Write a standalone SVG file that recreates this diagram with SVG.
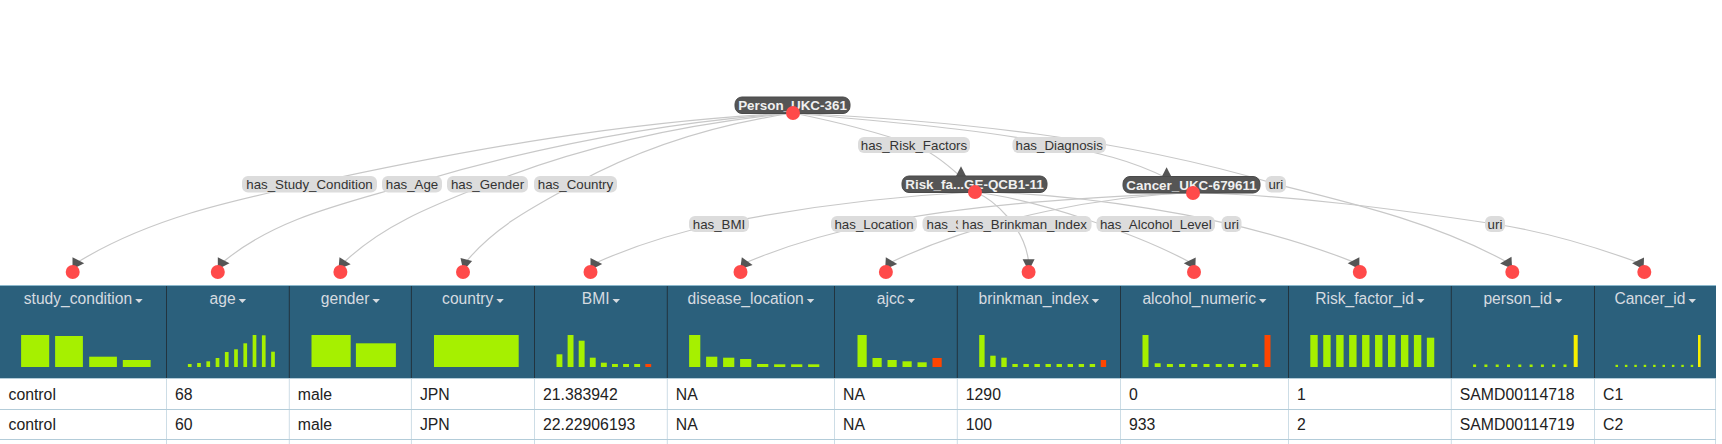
<svg xmlns="http://www.w3.org/2000/svg" xmlns:xlink="http://www.w3.org/1999/xlink" width="1722" height="444" viewBox="0 0 1722 444">
<style>
.edge{fill:none;stroke:#c8c8c8;stroke-width:1.2}
.arrow{fill:#555}
.pill{fill:#dcdcdc}
.pill-t{font-family:"Liberation Sans",Arial,sans-serif;font-size:13.3px;fill:#333;text-anchor:middle}
.nlab{fill:#555;stroke:#4a4a4a;stroke-width:1}
.nlab-t{font-family:"Liberation Sans",Arial,sans-serif;font-size:13.4px;font-weight:bold;fill:#f0f0f0;text-anchor:middle}
.dot{fill:#ff4a4a}
.hdr{fill:#2b607c}
.hdr-t{font-family:"Liberation Sans",Arial,sans-serif;font-size:15.6px;fill:#d6dbe0}
.caret{fill:#d6dbe0}
.bar{fill:#a6f000}
.bar-r{fill:#ff4500}
.bar-y{fill:#f7ef00}
.cell{font-family:"Liberation Sans",Arial,sans-serif;font-size:15.8px;fill:#222}
.sep-d{stroke:#22343f;stroke-width:1}
.sep-l{stroke:#cddde6;stroke-width:1}
.row-l{stroke:#b3ccd9;stroke-width:1.2}
</style>
<defs>
<polygon id="arw" points="0,-6 11.7,0 0,6"/>
</defs>
<rect x="0" y="0" width="1722" height="444" fill="#ffffff"/>

<!-- table -->
<g id="table">
<rect class="hdr" x="0" y="285" width="1716" height="93"/>
<line x1="0" y1="285.5" x2="1716" y2="285.5" stroke="#8cb8cc" stroke-width="1.2"/>
<g class="sep-d">
<line x1="166.5" y1="286" x2="166.5" y2="378"/>
<line x1="289.3" y1="286" x2="289.3" y2="378"/>
<line x1="411.4" y1="286" x2="411.4" y2="378"/>
<line x1="534.5" y1="286" x2="534.5" y2="378"/>
<line x1="667.3" y1="286" x2="667.3" y2="378"/>
<line x1="834.5" y1="286" x2="834.5" y2="378"/>
<line x1="957.3" y1="286" x2="957.3" y2="378"/>
<line x1="1120.5" y1="286" x2="1120.5" y2="378"/>
<line x1="1288.5" y1="286" x2="1288.5" y2="378"/>
<line x1="1451.3" y1="286" x2="1451.3" y2="378"/>
<line x1="1594.5" y1="286" x2="1594.5" y2="378"/>
</g>
<g class="sep-l">
<line x1="166.5" y1="378" x2="166.5" y2="444"/>
<line x1="289.3" y1="378" x2="289.3" y2="444"/>
<line x1="411.4" y1="378" x2="411.4" y2="444"/>
<line x1="534.5" y1="378" x2="534.5" y2="444"/>
<line x1="667.3" y1="378" x2="667.3" y2="444"/>
<line x1="834.5" y1="378" x2="834.5" y2="444"/>
<line x1="957.3" y1="378" x2="957.3" y2="444"/>
<line x1="1120.5" y1="378" x2="1120.5" y2="444"/>
<line x1="1288.5" y1="378" x2="1288.5" y2="444"/>
<line x1="1451.3" y1="378" x2="1451.3" y2="444"/>
<line x1="1594.5" y1="378" x2="1594.5" y2="444"/>
<line x1="1715.5" y1="378" x2="1715.5" y2="444"/>
</g>
<g class="row-l">
<line x1="0" y1="378.5" x2="1716" y2="378.5"/>
<line x1="0" y1="409.5" x2="1716" y2="409.5"/>
<line x1="0" y1="439.5" x2="1716" y2="439.5"/>
</g>
<g class="cell">
<text x="8.5" y="400">control</text>
<text x="175" y="400">68</text>
<text x="297.8" y="400">male</text>
<text x="419.9" y="400">JPN</text>
<text x="543" y="400">21.383942</text>
<text x="675.8" y="400">NA</text>
<text x="843" y="400">NA</text>
<text x="965.8" y="400">1290</text>
<text x="1129" y="400">0</text>
<text x="1297" y="400">1</text>
<text x="1459.8" y="400">SAMD00114718</text>
<text x="1603" y="400">C1</text>
<text x="8.5" y="430">control</text>
<text x="175" y="430">60</text>
<text x="297.8" y="430">male</text>
<text x="419.9" y="430">JPN</text>
<text x="543" y="430">22.22906193</text>
<text x="675.8" y="430">NA</text>
<text x="843" y="430">NA</text>
<text x="965.8" y="430">100</text>
<text x="1129" y="430">933</text>
<text x="1297" y="430">2</text>
<text x="1459.8" y="430">SAMD00114719</text>
<text x="1603" y="430">C2</text>
</g>
</g>

<!-- connectors -->
<g id="connectors">
<path class="edge" d="M793,113 C630,121 468,149 309,184 C230,201 148,219 77.5,262.3"/>
<path class="edge" d="M793,113 C663.8,122 535.1,146.8 411,184 C346.7,203.3 276.1,217.5 222.8,262.3"/>
<path class="edge" d="M793,113 C689,123.4 584.5,145.2 487.5,184 C437.9,203.8 384.8,223.2 344,262.3"/>
<path class="edge" d="M793,113 C717.4,124.3 641.9,147.2 575,184 C536.5,205.2 494.8,226.2 466,262"/>
<path class="edge" d="M793,113 C833.9,121.2 874.6,131.2 914,145 C930.5,150.8 944.7,162 961,177"/>
<path class="edge" d="M793,113 C881.9,121.9 971.4,127.5 1059,145 C1094.6,152.1 1130.2,159.6 1166.5,178"/>
<path class="edge" d="M793,113 C955,121 1120,137.3 1275.5,184 C1355.5,204 1436,223 1506.8,262"/>
<path class="edge" d="M975,192 C888.9,196.3 803.1,207.1 718.5,224 C677.2,232.3 636.4,244.7 595.5,263"/>
<path class="edge" d="M975,192 C995,200 1025,228 1028.6,262"/>
<path class="edge" d="M975,192 C1040,200 1140,235 1190.5,262.6"/>
<path class="edge" d="M975,192 C1060,193 1230,212 1354.4,262.4"/>
<path class="edge" d="M1193,192.5 C1086.2,197.8 978.9,203 874,224 C831,232.6 788.6,244.7 746,262.5"/>
<path class="edge" d="M1193,192.5 C1110,196 990,215 890.5,262.5"/>
<path class="edge" d="M1193,192.5 C1294,195.5 1394.7,209 1494.6,224 C1542.8,231.2 1590,244.9 1638.8,262.7"/>
<g class="arrow">
<use xlink:href="#arw" href="#arw" transform="translate(72.5,263.3)"/>
<use xlink:href="#arw" href="#arw" transform="translate(217.8,263.3)"/>
<use xlink:href="#arw" href="#arw" transform="translate(339,263.3) rotate(5)"/>
<use xlink:href="#arw" href="#arw" transform="translate(466.3,259.5) rotate(105)"/>
<use xlink:href="#arw" href="#arw" transform="translate(590.5,264)"/>
<use xlink:href="#arw" href="#arw" transform="translate(741,263.3) rotate(8)"/>
<use xlink:href="#arw" href="#arw" transform="translate(885.5,263.3) rotate(3)"/>
<use xlink:href="#arw" href="#arw" transform="translate(1028.6,259.3) rotate(90)"/>
<use xlink:href="#arw" href="#arw" transform="translate(1195.5,263.6) rotate(182)"/>
<use xlink:href="#arw" href="#arw" transform="translate(1359.4,263.3) rotate(180)"/>
<use xlink:href="#arw" href="#arw" transform="translate(1511.8,262.8) rotate(177)"/>
<use xlink:href="#arw" href="#arw" transform="translate(1643.8,263.6) rotate(182)"/>
<use xlink:href="#arw" href="#arw" transform="translate(961,178) rotate(-90)"/>
<use xlink:href="#arw" href="#arw" transform="translate(1166.6,179) rotate(-90)"/>
</g>
<g id="connector-labels">
<rect class="pill" x="858" y="137" width="112" height="16" rx="6"/>
<text class="pill-t" x="914" y="149.7">has_Risk_Factors</text>
<rect class="pill" x="1012.5" y="137" width="93.5" height="16" rx="6"/>
<text class="pill-t" x="1059.2" y="149.7">has_Diagnosis</text>
<rect class="pill" x="242" y="176" width="135" height="16.5" rx="6"/>
<text class="pill-t" x="309.5" y="189">has_Study_Condition</text>
<rect class="pill" x="382" y="176" width="60" height="16.5" rx="6"/>
<text class="pill-t" x="412" y="189">has_Age</text>
<rect class="pill" x="447" y="176" width="81" height="16.5" rx="6"/>
<text class="pill-t" x="487.5" y="189">has_Gender</text>
<rect class="pill" x="534" y="176" width="83" height="16.5" rx="6"/>
<text class="pill-t" x="575.5" y="189">has_Country</text>
<rect class="pill" x="1265.5" y="176" width="20.5" height="16.5" rx="6"/>
<text class="pill-t" x="1275.8" y="189">uri</text>
<rect class="pill" x="689" y="216" width="60" height="16" rx="6"/>
<text class="pill-t" x="719" y="228.7">has_BMI</text>
<rect class="pill" x="831" y="216" width="86" height="16" rx="6"/>
<text class="pill-t" x="874" y="228.7">has_Location</text>
<rect class="pill" x="922.5" y="216" width="70" height="16" rx="6"/>
<text class="pill-t" x="926.5" y="228.7" style="text-anchor:start">has_S</text>
<rect class="pill" x="957.5" y="216" width="134" height="16" rx="6"/>
<text class="pill-t" x="1024.5" y="228.7">has_Brinkman_Index</text>
<rect class="pill" x="1096.5" y="216" width="118.5" height="16" rx="6"/>
<text class="pill-t" x="1155.8" y="228.7">has_Alcohol_Level</text>
<rect class="pill" x="1221.5" y="216" width="20" height="16" rx="6"/>
<text class="pill-t" x="1231.5" y="228.7">uri</text>
<rect class="pill" x="1485" y="216" width="20" height="16" rx="6"/>
<text class="pill-t" x="1495" y="228.7">uri</text>
</g>
</g>

<!-- class nodes -->
<g id="node-person">
<rect class="nlab" x="735" y="97" width="115" height="16.5" rx="7"/>
<text class="nlab-t" x="792.5" y="110">Person_UKC-361</text>
<circle class="dot" cx="793" cy="113" r="7"/>
</g>
<g id="node-risk">
<rect class="nlab" x="902" y="176" width="145" height="16.5" rx="7"/>
<text class="nlab-t" x="974.5" y="189">Risk_fa...GE-QCB1-11</text>
<circle class="dot" cx="975" cy="192" r="7"/>
</g>
<g id="node-cancer">
<rect class="nlab" x="1123" y="176.5" width="137" height="16.5" rx="7"/>
<text class="nlab-t" x="1191.5" y="189.5">Cancer_UKC-679611</text>
<circle class="dot" cx="1193" cy="193" r="7"/>
</g>

<!-- column nodes -->
<g id="col-study_condition">
<circle class="dot" cx="72.7" cy="272" r="7"/>
<text class="hdr-t" x="23.8" y="304">study_condition</text>
<polygon class="caret" points="135.2,299 142.7,299 139,303"/>
<g class="bar"><rect x="21.1" y="335" width="28.1" height="32"/><rect x="55.1" y="336" width="27.8" height="31"/><rect x="89.2" y="356.7" width="27.7" height="10.3"/><rect x="122.8" y="360" width="27.8" height="7"/></g>
</g>
<g id="col-age">
<circle class="dot" cx="217.8" cy="272" r="7"/>
<text class="hdr-t" x="209.6" y="304">age</text>
<polygon class="caret" points="238.6,299 246.1,299 242.4,303"/>
<g class="bar"><rect x="187.9" y="364" width="3.7" height="3"/><rect x="197.15" y="363" width="3.7" height="4"/><rect x="206.4" y="361.3" width="3.7" height="5.7"/><rect x="215.65" y="358" width="3.7" height="9"/><rect x="224.9" y="352" width="3.7" height="15"/><rect x="234.15" y="349.3" width="3.7" height="17.7"/><rect x="243.4" y="343.3" width="3.7" height="23.7"/><rect x="252.65" y="335" width="3.7" height="32"/><rect x="261.9" y="335.3" width="3.7" height="31.7"/><rect x="271.15" y="351.7" width="3.7" height="15.3"/></g>
</g>
<g id="col-gender">
<circle class="dot" cx="340.4" cy="272" r="7"/>
<text class="hdr-t" x="320.8" y="304">gender</text>
<polygon class="caret" points="372.4,299 379.9,299 376.2,303"/>
<g class="bar"><rect x="311.5" y="335" width="39.2" height="32"/><rect x="355.9" y="343.3" width="40" height="23.7"/></g>
</g>
<g id="col-country">
<circle class="dot" cx="463" cy="272" r="7"/>
<text class="hdr-t" x="442.1" y="304">country</text>
<polygon class="caret" points="496.3,299 503.8,299 500.1,303"/>
<g class="bar"><rect x="434" y="335" width="84.7" height="32"/></g>
</g>
<g id="col-BMI">
<circle class="dot" cx="590.5" cy="272" r="7"/>
<text class="hdr-t" x="581.8" y="304">BMI</text>
<polygon class="caret" points="612.5,299 620,299 616.3,303"/>
<g class="bar"><rect x="556.5" y="354.3" width="5.9" height="12.7"/><rect x="567.6" y="335" width="5.9" height="32"/><rect x="578.7" y="340.7" width="5.9" height="26.3"/><rect x="589.8" y="357.7" width="5.9" height="9.3"/><rect x="600.9" y="362.7" width="5.9" height="4.3"/><rect x="612" y="364" width="5.9" height="3"/><rect x="623.1" y="364" width="5.9" height="3"/><rect x="634.2" y="364" width="5.9" height="3"/></g>
<rect class="bar-r" x="645.3" y="364" width="5.9" height="3"/>
</g>
<g id="col-disease_location">
<circle class="dot" cx="740.5" cy="272" r="7"/>
<text class="hdr-t" x="687.6" y="304">disease_location</text>
<polygon class="caret" points="806.8,299 814.3,299 810.6,303"/>
<g class="bar"><rect x="689.1" y="335" width="11.2" height="32"/><rect x="706.1" y="356.7" width="11.2" height="10.3"/><rect x="723.1" y="357.7" width="11.2" height="9.3"/><rect x="740.1" y="359" width="11.2" height="8"/><rect x="757.1" y="364" width="11.2" height="3"/><rect x="774.1" y="364.3" width="11.2" height="2.7"/><rect x="791.1" y="364.3" width="11.2" height="2.7"/><rect x="808.1" y="364.3" width="11.2" height="2.7"/></g>
</g>
<g id="col-ajcc">
<circle class="dot" cx="885.9" cy="272" r="7"/>
<text class="hdr-t" x="876.8" y="304">ajcc</text>
<polygon class="caret" points="907.5,299 915,299 911.3,303"/>
<g class="bar"><rect x="857.5" y="335" width="9.2" height="32"/><rect x="872.5" y="358" width="9.2" height="9"/><rect x="887.5" y="360" width="9.2" height="7"/><rect x="902.5" y="361.3" width="9.2" height="5.7"/><rect x="917.5" y="362.3" width="9.2" height="4.7"/></g>
<rect class="bar-r" x="932.5" y="358" width="9.2" height="9"/>
</g>
<g id="col-brinkman_index">
<circle class="dot" cx="1028.6" cy="272" r="7"/>
<text class="hdr-t" x="978.6" y="304">brinkman_index</text>
<polygon class="caret" points="1091.7,299 1099.2,299 1095.5,303"/>
<g class="bar"><rect x="979.2" y="335" width="5.4" height="32"/><rect x="990.25" y="355.7" width="5.4" height="11.3"/><rect x="1001.3" y="357.7" width="5.4" height="9.3"/><rect x="1012.35" y="364" width="5.4" height="3"/><rect x="1023.4" y="364" width="5.4" height="3"/><rect x="1034.45" y="364" width="5.4" height="3"/><rect x="1045.5" y="364" width="5.4" height="3"/><rect x="1056.55" y="364" width="5.4" height="3"/><rect x="1067.6" y="364" width="5.4" height="3"/><rect x="1078.65" y="364" width="5.4" height="3"/><rect x="1089.7" y="364" width="5.4" height="3"/></g>
<rect class="bar-r" x="1100.75" y="360" width="5.4" height="7"/>
</g>
<g id="col-alcohol_numeric">
<circle class="dot" cx="1194" cy="272" r="7"/>
<text class="hdr-t" x="1142.4" y="304">alcohol_numeric</text>
<polygon class="caret" points="1259,299 1266.5,299 1262.8,303"/>
<g class="bar"><rect x="1142.5" y="335" width="6" height="32"/><rect x="1154.7" y="363.3" width="6" height="3.7"/><rect x="1166.9" y="364" width="6" height="3"/><rect x="1179.1" y="364" width="6" height="3"/><rect x="1191.3" y="364" width="6" height="3"/><rect x="1203.5" y="364" width="6" height="3"/><rect x="1215.7" y="364" width="6" height="3"/><rect x="1227.9" y="364" width="6" height="3"/><rect x="1240.1" y="364" width="6" height="3"/><rect x="1252.3" y="364" width="6" height="3"/></g>
<rect class="bar-r" x="1264.5" y="335" width="6" height="32"/>
</g>
<g id="col-Risk_factor_id">
<circle class="dot" cx="1359.8" cy="272" r="7"/>
<text class="hdr-t" x="1315.2" y="304">Risk_factor_id</text>
<polygon class="caret" points="1417,299 1424.5,299 1420.8,303"/>
<g class="bar"><rect x="1310.3" y="335" width="7.4" height="32"/><rect x="1323.25" y="335" width="7.4" height="32"/><rect x="1336.2" y="335" width="7.4" height="32"/><rect x="1349.15" y="335" width="7.4" height="32"/><rect x="1362.1" y="335" width="7.4" height="32"/><rect x="1375.05" y="335" width="7.4" height="32"/><rect x="1388" y="335" width="7.4" height="32"/><rect x="1400.95" y="335" width="7.4" height="32"/><rect x="1413.9" y="335" width="7.4" height="32"/><rect x="1426.85" y="337.7" width="7.4" height="29.3"/></g>
</g>
<g id="col-person_id">
<circle class="dot" cx="1512.3" cy="272" r="7"/>
<text class="hdr-t" x="1483.4" y="304">person_id</text>
<polygon class="caret" points="1554.9,299 1562.4,299 1558.7,303"/>
<g class="bar"><rect x="1473.1" y="364.5" width="3" height="2.5"/><rect x="1484.4" y="364.5" width="3" height="2.5"/><rect x="1495.7" y="364.5" width="3" height="2.5"/><rect x="1507" y="364.5" width="3" height="2.5"/><rect x="1518.3" y="364.5" width="3" height="2.5"/><rect x="1529.6" y="364.5" width="3" height="2.5"/><rect x="1540.9" y="364.5" width="3" height="2.5"/><rect x="1552.2" y="364.5" width="3" height="2.5"/><rect x="1563.5" y="364.5" width="3" height="2.5"/></g>
<rect class="bar-y" x="1573.7" y="335" width="4" height="32"/>
</g>
<g id="col-Cancer_id">
<circle class="dot" cx="1644.3" cy="272" r="7"/>
<text class="hdr-t" x="1614.4" y="304">Cancer_id</text>
<polygon class="caret" points="1688.5,299 1696,299 1692.3,303"/>
<g class="bar"><rect x="1615.5" y="364.8" width="2.5" height="2.2"/><rect x="1624.9" y="364.8" width="2.5" height="2.2"/><rect x="1634.3" y="364.8" width="2.5" height="2.2"/><rect x="1643.7" y="364.8" width="2.5" height="2.2"/><rect x="1653.1" y="364.8" width="2.5" height="2.2"/><rect x="1662.5" y="364.8" width="2.5" height="2.2"/><rect x="1671.9" y="364.8" width="2.5" height="2.2"/><rect x="1681.3" y="364.8" width="2.5" height="2.2"/><rect x="1690.7" y="364.8" width="2.5" height="2.2"/></g>
<rect class="bar-y" x="1698" y="335" width="2.6" height="32"/>
</g>
</svg>
